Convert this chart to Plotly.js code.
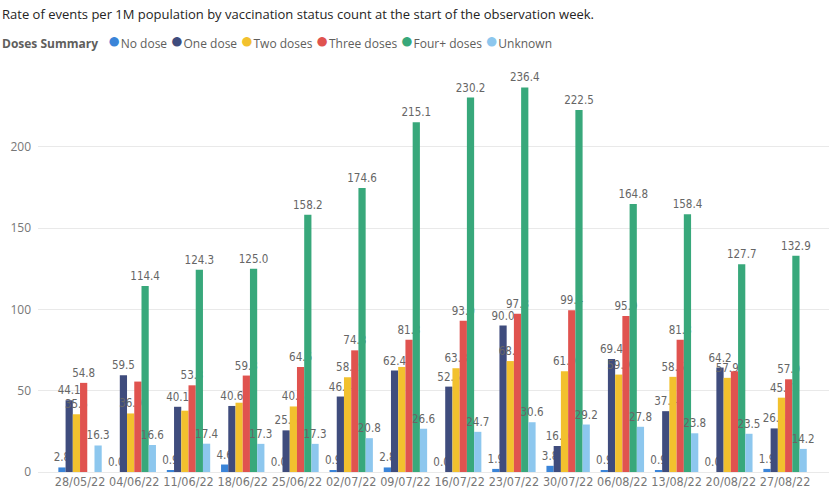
<!DOCTYPE html>
<html>
<head>
<meta charset="utf-8">
<script src="https://cdn.plot.ly/plotly-3.0.1.min.js"></script>
<style>
  html, body { margin: 0; padding: 0; background: #fff; }
  #chart { width: 835px; height: 504px; }
</style>
</head>
<body>
<div id="chart"></div>
<script>
const weeks = ['28/05/22','04/06/22','11/06/22','18/06/22','25/06/22','02/07/22','09/07/22',
               '16/07/22','23/07/22','30/07/22','06/08/22','13/08/22','20/08/22','27/08/22'];

const seriesNames = ['No dose','One dose','Two doses','Three doses','Four+ doses','Unknown'];
const seriesColors = ['#3A84D8','#3F4C7D','#F2C12E','#E0534F','#38A87B','#8DC7EE'];

const noDose     = [2.8, 0.0, 0.9, 4.6, 0.0, 0.9, 2.8, 0.0, 1.9, 3.8, 0.9, 0.9, 0.0, 1.9];
const oneDose    = [44.1, 59.5, 40.1, 40.6, 25.6, 46.4, 62.4, 52.5, 90.0, 16.0, 69.4, 37.4, 64.2, 26.8];
const twoDoses   = [35.5, 36.0, 37.7, 42.6, 40.3, 58.2, 64.6, 63.8, 68.2, 61.9, 59.9, 58.5, 57.9, 45.7];
const threeDoses = [54.8, 55.6, 53.3, 59.3, 64.6, 74.8, 81.3, 93.0, 97.3, 99.4, 95.9, 81.3, 61.9, 57.0];
const fourDoses  = [null, 114.4, 124.3, 125.0, 158.2, 174.6, 215.1, 230.2, 236.4, 222.5, 164.8, 158.4, 127.7, 132.9];
const unknown    = [16.3, 16.6, 17.4, 17.3, 17.3, 20.8, 26.6, 24.7, 30.6, 29.2, 27.8, 23.8, 23.5, 14.2];

// labels the report hid because they collided with a neighbour
const hiddenLabels = { 'Two doses': [2, 3, 6], 'Three doses': [1, 12] };

const allValues = [noDose, oneDose, twoDoses, threeDoses, fourDoses, unknown];

const labelFont = { family: 'DejaVu Sans Condensed, DejaVu Sans, sans-serif', size: 11.5, color: '#666' };

const traces = seriesNames.map(function(name, i){
  const vals = allValues[i];
  const hide = hiddenLabels[name] || [];
  const txt = vals.map(function(v, j){
    if (v === null || hide.indexOf(j) >= 0) return '';
    return v.toFixed(1);
  });
  return {
    type: 'bar',
    name: name,
    x: weeks,
    y: vals,
    text: txt,
    textposition: 'outside',
    textangle: 0,
    constraintext: 'none',
    cliponaxis: false,
    textfont: labelFont,
    marker: { color: seriesColors[i] },
    hoverinfo: 'x+y+name'
  };
});

// legend line built from the series names and colours
const legendText = '<b>Doses Summary</b>   ' + seriesNames.map(function(n, i){
  return '<span style="color:' + seriesColors[i] + ';font-size:22px">●</span>' + n;
}).join(' ');

const layout = {
  width: 835, height: 504,
  margin: { l: 38, r: 6, t: 67, b: 32 },
  paper_bgcolor: '#fff', plot_bgcolor: '#fff',
  barmode: 'group', bargap: 0.2, bargroupgap: 0,
  showlegend: false,
  font: { family: 'Open Sans, sans-serif', color: '#777' },
  xaxis: {
    type: 'category',
    range: [-0.775, 13.81],
    showgrid: false, zeroline: false, showline: false,
    ticks: '', tickfont: { family: 'DejaVu Sans Condensed, DejaVu Sans, sans-serif', size: 12.5, color: '#777' }
  },
  yaxis: {
    range: [0, 249],
    tickvals: [0, 50, 100, 150, 200],
    showgrid: true, gridcolor: '#e9e9e9', gridwidth: 1,
    zeroline: true, zerolinecolor: '#e9e9e9', zerolinewidth: 1,
    showline: false, ticks: '', ticklabelstandoff: 6,
    tickfont: { family: 'Open Sans, sans-serif', size: 12, color: '#777' }
  },
  annotations: [
    { xref: 'paper', yref: 'paper', x: -38/791, y: 1 + 53/405, xanchor: 'left', yanchor: 'middle',
      text: 'Rate of events per 1M population by vaccination status count at the start of the observation week.',
      showarrow: false, font: { family: 'Open Sans, sans-serif', size: 13, color: '#252423' } },
    { xref: 'paper', yref: 'paper', x: -38/791, y: 1 + 28/405, xanchor: 'left', yanchor: 'middle',
      text: legendText, showarrow: false,
      font: { family: 'Open Sans, sans-serif', size: 12, color: '#605E5C' } }
  ]
};

Plotly.newPlot('chart', traces, layout, { displayModeBar: false, responsive: false });
</script>
</body>
</html>
